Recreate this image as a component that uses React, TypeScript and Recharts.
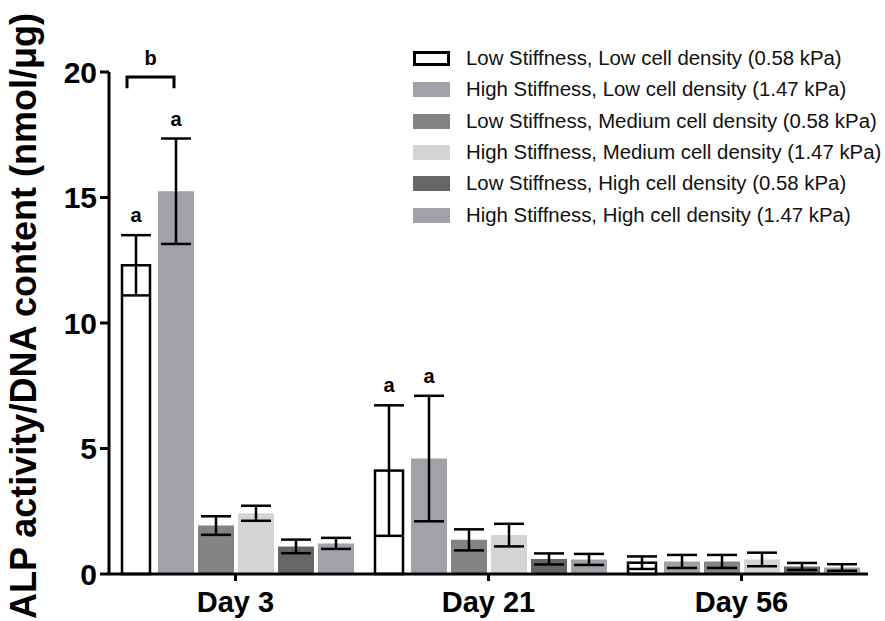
import React from "react";
import { BarChart, Bar, XAxis, YAxis, ErrorBar, Legend } from "recharts";

const days = ["Day 3", "Day 21", "Day 56"];

const seriesNames = [
  "Low Stiffness, Low cell density (0.58 kPa)",
  "High Stiffness, Low cell density (1.47 kPa)",
  "Low Stiffness, Medium cell density (0.58 kPa)",
  "High Stiffness, Medium cell density (1.47 kPa)",
  "Low Stiffness, High cell density (0.58 kPa)",
  "High Stiffness, High cell density (1.47 kPa)",
];
const seriesColors = ["#ffffff", "#a1a1a6", "#838383", "#d4d4d4", "#666666", "#a1a1a6"];

// means per series, one value per day
const means = [
  [12.3, 4.12, 0.45],
  [15.25, 4.6, 0.5],
  [1.93, 1.36, 0.5],
  [2.42, 1.55, 0.58],
  [1.1, 0.6, 0.3],
  [1.22, 0.58, 0.26],
];
// error (symmetric) per series, one value per day
const errors = [
  [1.2, 2.6, 0.25],
  [2.1, 2.5, 0.26],
  [0.37, 0.42, 0.26],
  [0.3, 0.45, 0.27],
  [0.27, 0.22, 0.14],
  [0.22, 0.22, 0.13],
];
// significance letters above bars
const letters = [
  ["a", "a", ""],
  ["a", "a", ""],
  ["", "", ""],
  ["", "", ""],
  ["", "", ""],
  ["", "", ""],
];
const yTicks = [0, 5, 10, 15, 20];

const data = days.map((day, i) => {
  const row: Record<string, string | number> = { day };
  means.forEach((m, s) => {
    row["m" + s] = m[i];
    row["e" + s] = errors[s][i];
  });
  return row;
});

const FONT = "'Liberation Sans', Arial, sans-serif";

const WhiteBar = (props: any) => {
  const { x, y, width, height } = props;
  const inset = 4;
  return (
    <rect x={x + inset} y={y} width={width - inset * 2} height={height} fill="#fff" stroke="#000" strokeWidth={2.5} />
  );
};

const makeLabel = (s: number) => (props: any) => {
  const { x, y, width, height, value, index } = props;
  if (!value || !height) return null;
  const ppu = height / value;
  const base = y + height;
  const yv = (v: number) => base - v * ppu;
  const cx = x + width / 2;
  const parts: React.ReactNode[] = [];
  const letter = letters[s][index];
  if (letter) {
    const top = yv(means[s][index] + errors[s][index]);
    parts.push(
      <text key="l" x={cx} y={top - 13} textAnchor="middle" fontFamily={FONT} fontWeight="bold" fontSize={20} fill="#000">
        {letter}
      </text>
    );
  }
  if (s === 0 && index === 0) {
    const x1 = x + 9;
    const x2 = x + 56;
    const yTop = yv(19.8);
    const yLeg = yv(19.35);
    parts.push(
      <g key="b">
        <path d={`M${x1},${yLeg}V${yTop}H${x2}V${yLeg}`} fill="none" stroke="#000" strokeWidth={3} />
        <text x={(x1 + x2) / 2} y={yTop - 12} textAnchor="middle" fontFamily={FONT} fontWeight="bold" fontSize={20} fill="#000">
          b
        </text>
      </g>
    );
  }
  return <g>{parts}</g>;
};

const LegendBox = () => (
  <div style={{ fontFamily: FONT, fontSize: 19.5, color: "#111" }}>
    {seriesNames.map((name, i) => (
      <div key={name} style={{ display: "flex", alignItems: "center", height: 31.3, whiteSpace: "nowrap" }}>
        <div
          style={{
            width: 37,
            height: 15,
            boxSizing: "border-box",
            background: seriesColors[i],
            border: i === 0 ? "3px solid #000" : "none",
            marginRight: 16,
            flexShrink: 0,
          }}
        />
        <span style={{ display: "inline-block", transform: "scaleX(1.045)", transformOrigin: "left center" }}>{name}</span>
      </div>
    ))}
  </div>
);

const YLabel = (props: any) => {
  const { viewBox } = props;
  const cx = viewBox.x + 36;
  const cy = viewBox.y + viewBox.height / 2 - 7;
  return (
    <text
      x={cx}
      y={cy}
      transform={`rotate(-90 ${cx} ${cy})`}
      textAnchor="middle"
      fontFamily={FONT}
      fontWeight="bold"
      fontSize={36}
      fill="#000"
    >
      ALP activity/DNA content (nmol/μg)
    </text>
  );
};

export default function App() {
  return (
    <div style={{ position: "absolute", left: 0, top: 0, width: 885, height: 621, background: "#fff" }}>
      <BarChart
        width={885}
        height={621}
        data={data}
        margin={{ top: 72, right: 17, bottom: 0, left: 0 }}
        barSize={36}
        barGap={4}
      >
        <XAxis
          dataKey="day"
          height={47}
          axisLine={{ stroke: "#000", strokeWidth: 3 }}
          tickLine={{ stroke: "#000", strokeWidth: 3 }}
          tickSize={7}
          tickMargin={10}
          tick={{ fill: "#000", fontSize: 29, fontWeight: "bold", fontFamily: FONT }}
        />
        <YAxis
          width={109}
          domain={[0, 20]}
          ticks={yTicks}
          interval={0}
          axisLine={{ stroke: "#000", strokeWidth: 3 }}
          tickLine={{ stroke: "#000", strokeWidth: 3 }}
          tickSize={9}
          tickMargin={3}
          tick={{ fill: "#000", fontSize: 30, fontWeight: "bold", fontFamily: FONT }}
          label={<YLabel />}
        />
        <Legend
          layout="horizontal"
          verticalAlign="middle"
          align="center"
          content={<LegendBox />}
          wrapperStyle={{ top: 43, left: 413, width: 470, height: 190 }}
        />
        {seriesNames.map((name, s) => (
          <Bar
            key={name}
            dataKey={"m" + s}
            name={name}
            fill={seriesColors[s]}
            shape={s === 0 ? WhiteBar : undefined}
            isAnimationActive={false}
            label={makeLabel(s)}
          >
            <ErrorBar dataKey={"e" + s} width={15} strokeWidth={2.5} stroke="#000" />
          </Bar>
        ))}
      </BarChart>
    </div>
  );
}
